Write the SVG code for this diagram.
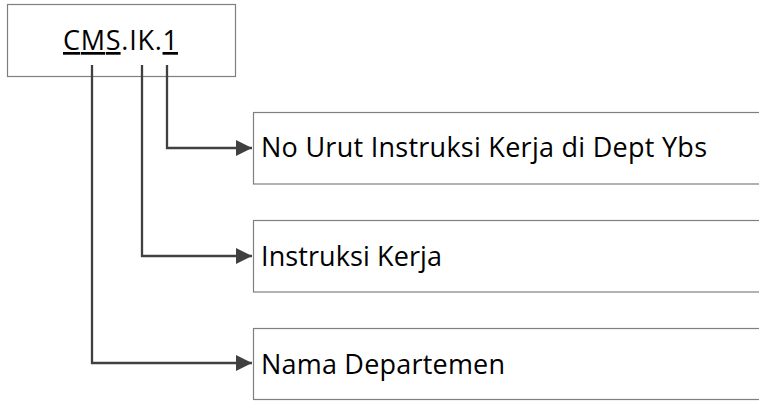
<svg xmlns="http://www.w3.org/2000/svg" width="759" height="401" viewBox="0 0 759 401">
<defs>
<marker id="arr" markerWidth="8" markerHeight="8" refX="7" refY="4" orient="auto" markerUnits="strokeWidth" viewBox="0 0 8 8">
<path d="M0,0.5 L7,4 L0,7.5 Z" fill="#404040"/>
</marker>
<style>
.box{fill:#fff;stroke:#7f7f7f;stroke-width:1.2}
.t{font-family:"Open Sans","Noto Sans",sans-serif;font-size:27px;fill:#000}
.c{fill:none;stroke:#404040;stroke-width:2.3}
</style>
</defs>
<rect width="759" height="401" fill="#fff"/>
<g id="code">
<rect class="box" x="7.5" y="4.5" width="228" height="72"/>
<text class="t" x="63" y="50" textLength="115"><tspan text-decoration="underline">CMS</tspan>.IK.<tspan text-decoration="underline">1</tspan></text>
</g>
<g id="n1">
<rect class="box" x="253.5" y="112.5" width="520" height="71.5"/>
<text class="t" x="261" y="157" textLength="446">No Urut Instruksi Kerja di Dept Ybs</text>
</g>
<g id="n2">
<rect class="box" x="253.5" y="220.5" width="520" height="71.5"/>
<text class="t" x="261" y="266" textLength="181">Instruksi Kerja</text>
</g>
<g id="n3">
<rect class="box" x="253.5" y="328.5" width="520" height="71"/>
<text class="t" x="261" y="374" textLength="244">Nama Departemen</text>
</g>
<g id="connectors">
<path class="c" d="M167,65 V148 H252" marker-end="url(#arr)"/>
<path class="c" d="M142,65 V256 H252" marker-end="url(#arr)"/>
<path class="c" d="M92,65 V363 H252" marker-end="url(#arr)"/>
</g>
</svg>
